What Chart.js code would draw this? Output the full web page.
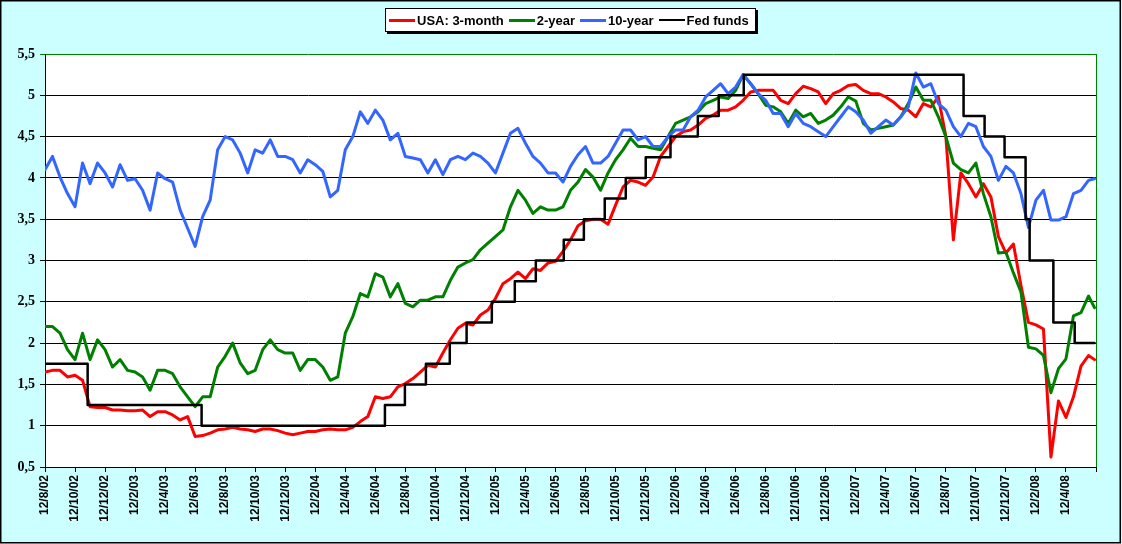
<!DOCTYPE html>
<html>
<head>
<meta charset="utf-8">
<script src="https://cdn.jsdelivr.net/npm/chart.js@4.4.1/dist/chart.umd.min.js"></script>
<style>
  html, body { margin: 0; padding: 0; background: #CCFFFF; }
  #wrap { position: relative; width: 1122px; height: 544px; }
  #legend {
    position: absolute; left: 385px; top: 8px; width: 366px; height: 22px;
    background: #fff; border: 1px solid #000; box-shadow: 2px 2px 0 #000;
    font: bold 13px "Liberation Sans", Arial, sans-serif; color: #000;
    display: flex; align-items: center; padding-left: 3px; box-sizing: content-box;
    white-space: nowrap; overflow: hidden;
  }
  .item { display: flex; align-items: center; margin-right: 5px; }
  .sw { display: inline-block; width: 26px; margin-right: 2px; }
</style>
</head>
<body>
<div id="wrap">
  <canvas id="c" width="1122" height="544"></canvas>
  <div id="legend">
    <span class="item"><span class="sw" style="border-top:3px solid #FF0000"></span>USA: 3-month</span>
    <span class="item"><span class="sw" style="border-top:3px solid #008000"></span>2-year</span>
    <span class="item"><span class="sw" style="border-top:3px solid #3366FF"></span>10-year</span>
    <span class="item"><span class="sw" style="border-top:2px solid #000000"></span>Fed funds</span>
  </div>
</div>
<script>
// Month offsets from 12 Aug 2002
const months = [
  0,0.5,1,1.5,2,2.5,3,3.5,4,4.5,
  5,5.5,6,6.5,7,7.5,8,8.5,9,9.5,
  10,10.5,11,11.5,12,12.5,13,13.5,14,14.5,
  15,15.5,16,16.5,17,17.5,18,18.5,19,19.5,
  20,20.5,21,21.5,22,22.5,23,23.5,24,24.5,
  25,25.5,26,26.5,27,27.5,28,28.5,29,29.5,
  30,30.5,31,31.5,32,32.5,33,33.5,34,34.5,
  35,35.5,36,36.5,37,37.5,38,38.5,39,39.5,
  40,40.5,41,41.5,42,42.5,43,43.5,44,44.5,
  45,45.5,46,46.5,47,47.5,48,48.5,49,49.5,
  50,50.5,51,51.5,52,52.5,53,53.5,54,54.5,
  55,55.5,56,56.5,57,57.5,58,58.5,59,59.5,
  60,60.5,61,61.5,62,62.5,63,63.5,64,64.5,
  65,65.5,66,66.5,67,67.5,68,68.5,69,69.5,
  69.9
];

const threeMonth = [
  1.65,1.67,1.67,1.59,1.61,1.55,1.23,1.22,1.22,1.19,
  1.19,1.18,1.18,1.19,1.11,1.17,1.17,1.13,1.07,1.11,
  0.87,0.88,0.91,0.95,0.96,0.98,0.96,0.95,0.93,0.96,
  0.96,0.94,0.91,0.89,0.91,0.93,0.93,0.95,0.96,0.95,
  0.95,0.98,1.05,1.11,1.35,1.33,1.35,1.47,1.51,1.57,
  1.65,1.73,1.71,1.88,2.04,2.18,2.24,2.22,2.34,2.40,
  2.54,2.72,2.78,2.86,2.78,2.90,2.88,2.97,2.99,3.11,
  3.25,3.42,3.48,3.50,3.50,3.44,3.67,3.89,3.97,3.95,
  3.91,4.01,4.26,4.38,4.50,4.56,4.58,4.64,4.72,4.76,
  4.82,4.82,4.86,4.94,5.04,5.06,5.06,5.06,4.94,4.90,
  5.02,5.11,5.08,5.04,4.90,5.02,5.06,5.12,5.13,5.06,
  5.02,5.02,4.98,4.92,4.84,4.82,4.74,4.90,4.86,4.98,
  4.50,3.25,4.06,3.93,3.77,3.93,3.77,3.29,3.09,3.20,
  2.70,2.25,2.22,2.17,0.62,1.30,1.10,1.35,1.72,1.85,
  1.80
];

const twoYear = [
  2.20,2.20,2.12,1.92,1.80,2.12,1.80,2.04,1.92,1.71,
  1.80,1.67,1.65,1.59,1.43,1.67,1.67,1.63,1.47,1.35,
  1.23,1.35,1.35,1.71,1.84,2.00,1.76,1.63,1.67,1.92,
  2.04,1.92,1.88,1.88,1.67,1.80,1.80,1.71,1.55,1.59,
  2.12,2.32,2.60,2.56,2.84,2.80,2.56,2.72,2.48,2.44,
  2.52,2.52,2.56,2.56,2.76,2.92,2.97,3.01,3.13,3.21,
  3.29,3.37,3.65,3.85,3.73,3.57,3.65,3.61,3.61,3.65,
  3.85,3.95,4.10,4.01,3.85,4.06,4.22,4.34,4.48,4.38,
  4.38,4.36,4.34,4.50,4.66,4.70,4.74,4.80,4.90,4.94,
  4.98,4.96,5.06,5.25,5.14,5.02,4.88,4.86,4.80,4.66,
  4.82,4.74,4.78,4.66,4.70,4.76,4.86,4.98,4.93,4.66,
  4.58,4.60,4.62,4.64,4.74,4.90,5.10,4.94,4.94,4.74,
  4.50,4.18,4.10,4.06,4.18,3.81,3.53,3.09,3.10,2.85,
  2.62,1.95,1.93,1.85,1.40,1.69,1.81,2.33,2.37,2.57,
  2.43
];

const tenYear = [
  4.10,4.26,4.01,3.81,3.65,4.18,3.93,4.18,4.06,3.89,
  4.16,3.97,3.99,3.85,3.61,4.06,3.99,3.95,3.61,3.39,
  3.17,3.53,3.73,4.34,4.50,4.46,4.30,4.06,4.34,4.30,
  4.46,4.26,4.26,4.22,4.06,4.22,4.16,4.08,3.77,3.85,
  4.34,4.50,4.80,4.66,4.82,4.70,4.46,4.54,4.26,4.24,
  4.22,4.06,4.22,4.04,4.22,4.26,4.22,4.30,4.26,4.18,
  4.06,4.30,4.54,4.60,4.42,4.26,4.18,4.06,4.06,3.95,
  4.14,4.28,4.38,4.18,4.18,4.26,4.42,4.58,4.58,4.46,
  4.50,4.38,4.38,4.50,4.58,4.58,4.74,4.82,4.98,5.06,
  5.14,5.02,5.10,5.25,5.14,5.02,4.94,4.78,4.78,4.62,
  4.78,4.66,4.62,4.56,4.50,4.62,4.74,4.86,4.80,4.70,
  4.54,4.62,4.70,4.64,4.74,4.86,5.27,5.10,5.14,4.90,
  4.82,4.62,4.50,4.66,4.62,4.38,4.26,3.97,4.14,4.06,
  3.81,3.40,3.73,3.85,3.49,3.49,3.53,3.81,3.85,3.97,
  3.99
];

// Fed funds target: month offset of each change and the new rate
const fedMonths = [0, 2.84, 10.43, 22.64, 23.97, 25.37, 26.96, 28.08, 29.76, 31.29, 32.69, 34.55, 35.89, 37.28, 38.68, 40.01, 41.66, 43.48, 44.87, 46.54, 61.18, 62.58, 63.91, 65.31, 65.58, 67.16, 68.58, 69.9];
const fedRates  = [1.75, 1.25, 1.00, 1.25, 1.50, 1.75, 2.00, 2.25, 2.50, 2.75, 3.00, 3.25, 3.50, 3.75, 4.00, 4.25, 4.50, 4.75, 5.00, 5.25, 4.75, 4.50, 4.25, 3.50, 3.00, 2.25, 2.00, 2.00];

const tickLabels = ['12/8/02','12/10/02','12/12/02','12/2/03','12/4/03','12/6/03','12/8/03','12/10/03','12/12/03',
  '12/2/04','12/4/04','12/6/04','12/8/04','12/10/04','12/12/04','12/2/05','12/4/05','12/6/05','12/8/05','12/10/05',
  '12/12/05','12/2/06','12/4/06','12/6/06','12/8/06','12/10/06','12/12/06','12/2/07','12/4/07','12/6/07','12/8/07',
  '12/10/07','12/12/07','12/2/08','12/4/08'];

const toXY = (xs, ys) => xs.map((x, i) => ({x: x, y: ys[i]}));

const bgPlugin = {
  id: 'bg',
  beforeDraw(chart) {
    const {ctx, chartArea: a} = chart;
    ctx.save();
    ctx.fillStyle = '#CCFFFF';
    ctx.fillRect(0, 0, chart.width, chart.height);
    ctx.fillStyle = '#FFFFFF';
    ctx.fillRect(a.left, a.top, a.right - a.left, a.bottom - a.top);
    ctx.restore();
  },
  afterDraw(chart) {
    const {ctx, chartArea: a} = chart;
    ctx.save();
    ctx.strokeStyle = '#008000';
    ctx.lineWidth = 1;
    ctx.beginPath();
    ctx.moveTo(Math.round(a.right) + 0.5, a.top);
    ctx.lineTo(Math.round(a.right) + 0.5, a.bottom);
    ctx.stroke();
    ctx.strokeStyle = '#000';
    ctx.lineWidth = 1.5;
    ctx.strokeRect(0.75, 0.75, 1119.5, 542);
    ctx.restore();
  }
};

Chart.defaults.font.family = '"Liberation Sans", Arial, sans-serif';

new Chart(document.getElementById('c'), {
  type: 'line',
  data: {
    datasets: [
      { label: 'USA: 3-month', data: toXY(months, threeMonth), borderColor: '#FF0000', borderWidth: 3, order: 4 },
      { label: '2-year', data: toXY(months, twoYear), borderColor: '#008000', borderWidth: 3, order: 3 },
      { label: '10-year', data: toXY(months, tenYear), borderColor: '#3366FF', borderWidth: 3, order: 2 },
      { label: 'Fed funds', data: toXY(fedMonths, fedRates), borderColor: '#000000', borderWidth: 2.5, stepped: 'before', order: 1 }
    ]
  },
  options: {
    responsive: false,
    animation: false,
    devicePixelRatio: 1,
    layout: { padding: { top: 54, right: 26, left: 0, bottom: 0 } },
    elements: { point: { radius: 0 }, line: { tension: 0, borderJoinStyle: 'round', borderCapStyle: 'round' } },
    plugins: { legend: { display: false }, tooltip: { enabled: false } },
    scales: {
      x: {
        type: 'linear', min: 0, max: 70,
        afterFit(s) { s.height = 77; },
        border: { display: true, color: '#000', width: 1 },
        grid: { drawOnChartArea: false, drawTicks: true, tickLength: 5, color: '#000' },
        ticks: {
          stepSize: 2, autoSkip: false, minRotation: 90, maxRotation: 90, padding: 3,
          color: '#000', font: { size: 12, weight: 'bold' },
          callback: (v) => tickLabels[Math.round(v / 2)] || ''
        }
      },
      y: {
        min: 0.5, max: 5.5,
        afterFit(s) { s.width = 45; },
        border: { display: true, color: '#000', width: 1 },
        grid: {
          drawTicks: true, tickLength: 5,
          color: (c) => (c.tick && c.tick.value === 5.5) ? '#008000' : '#000'
        },
        ticks: {
          stepSize: 0.5, padding: 5, color: '#000',
          font: { family: '"Liberation Serif", "Times New Roman", serif', size: 14, weight: 'bold' },
          callback: (v) => String(v).replace('.', ',')
        }
      }
    }
  },
  plugins: [bgPlugin]
});
</script>
</body>
</html>
